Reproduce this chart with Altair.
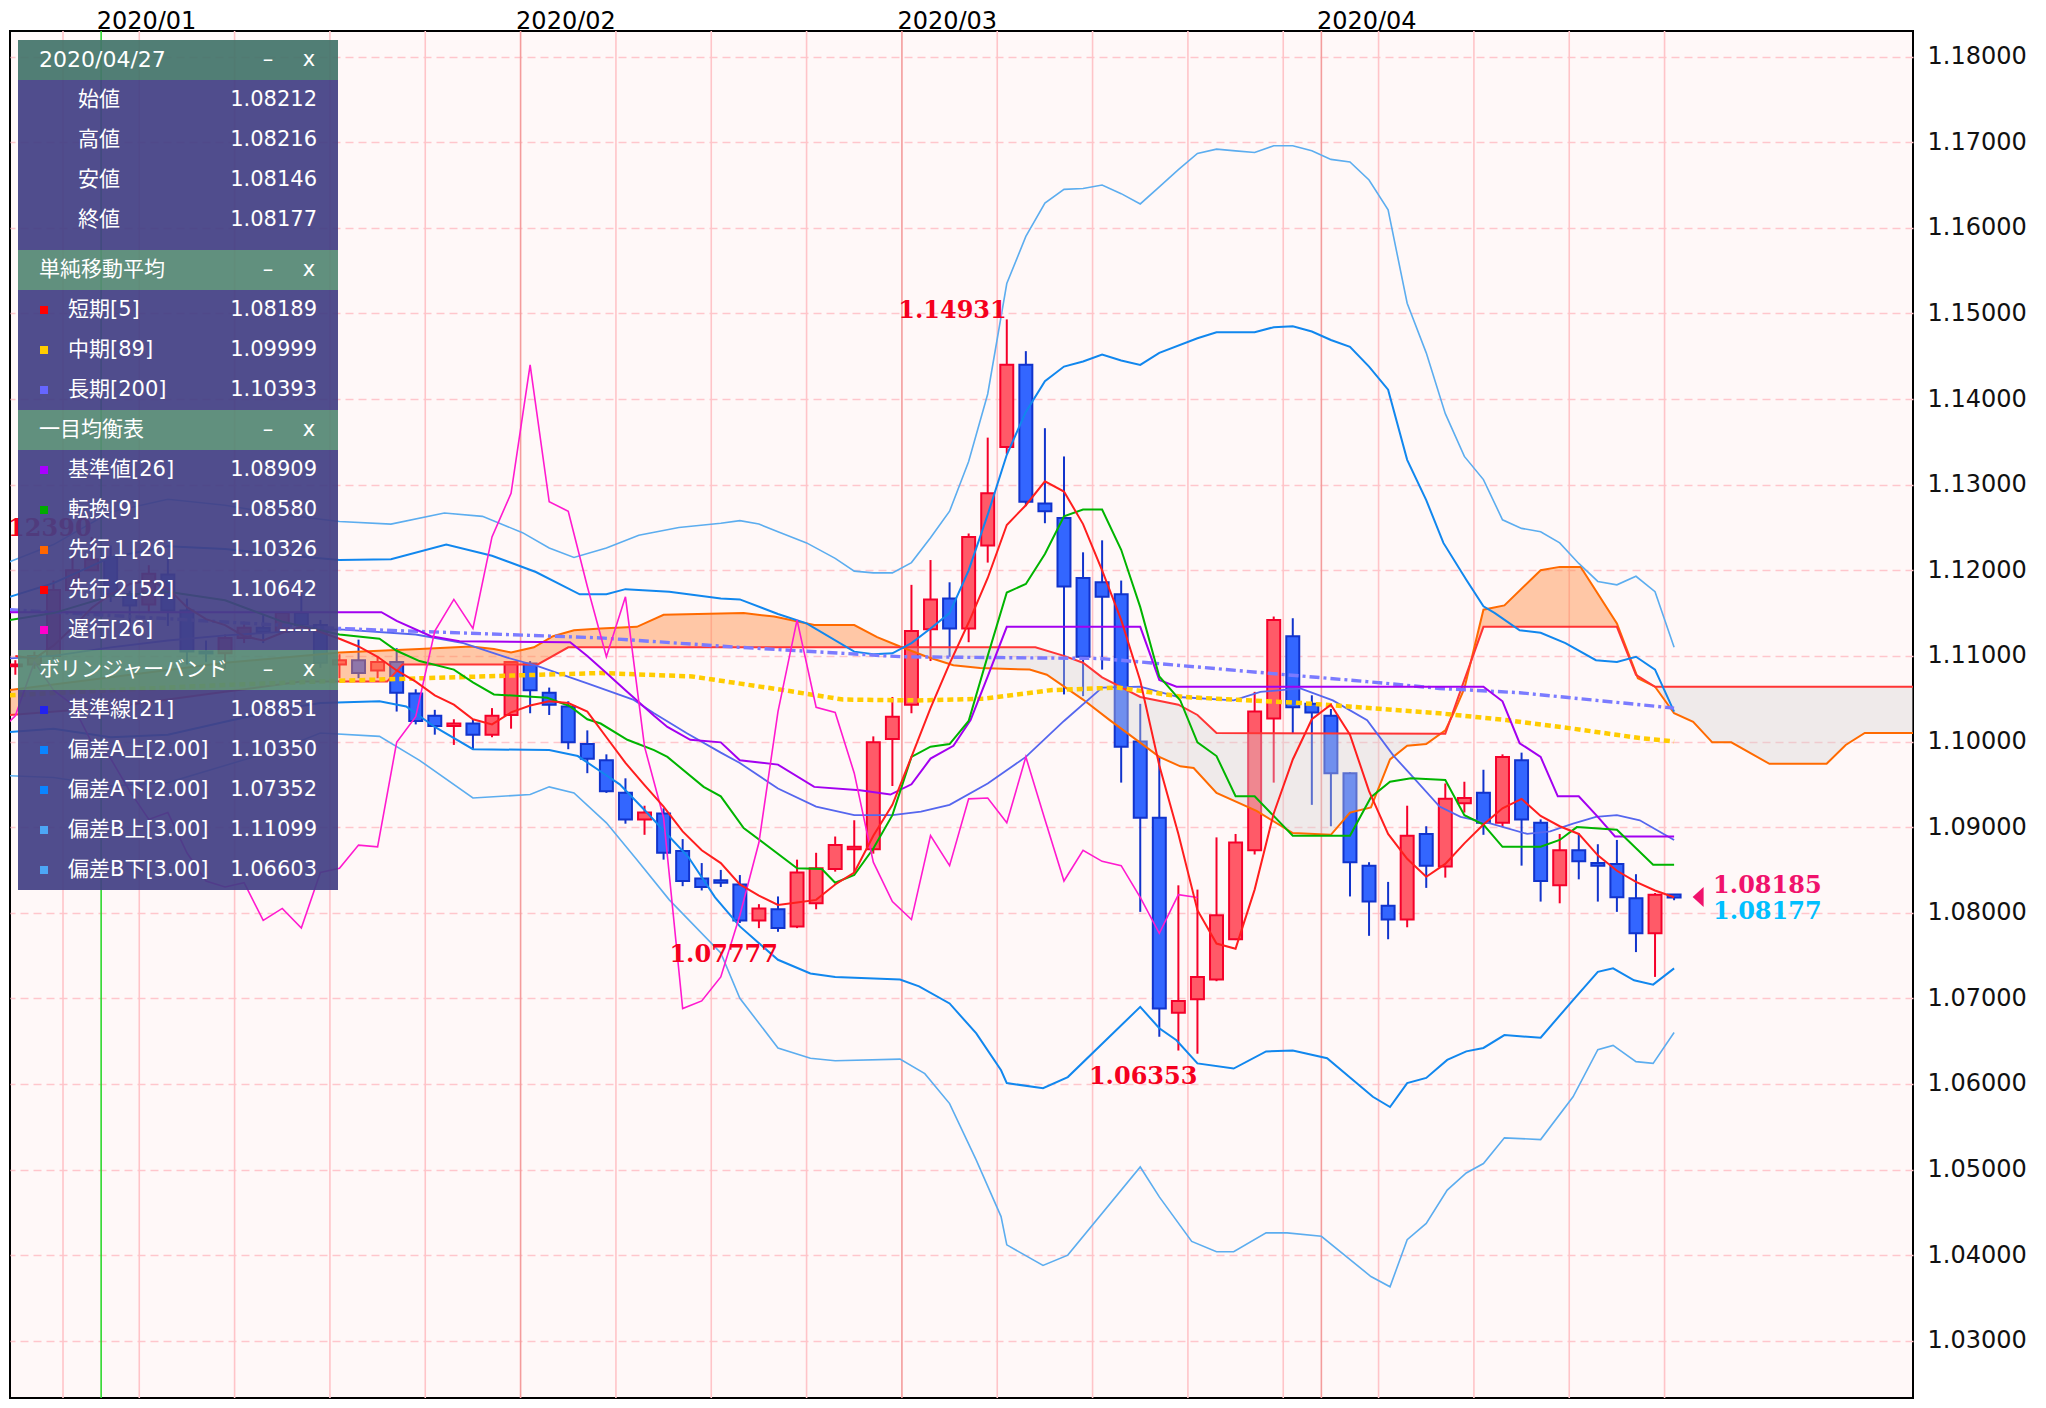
import altair as alt
import pandas as pd
import numpy as np

# ---------------- trading calendar (Jan 2 2020 = index 0) ----------------
cal = [d for d in pd.bdate_range("2019-12-24", "2020-04-27")
       if d.strftime("%m-%d") not in ("12-25", "01-01")]
first_idx = cal.index(pd.Timestamp("2020-01-02"))
day_n = [i - first_idx for i in range(len(cal))]

# ---------------- daily candles (n = -5 .. 82) ----------------
opens = [1.1088, 1.1090, 1.1100, 1.1177, 1.1200, 1.1215, 1.1172, 1.1160, 1.1195, 1.1153,
         1.1105, 1.1103, 1.1121, 1.1133, 1.1128, 1.1150, 1.1136, 1.1090, 1.1095, 1.1083,
         1.1093, 1.1056, 1.1030, 1.1018, 1.1021, 1.1008, 1.1031, 1.1091, 1.1057, 1.1041,
         1.0997, 1.0978, 1.0940, 1.0909, 1.0916, 1.0872, 1.0840, 1.0838, 1.0833, 1.0791,
         1.0804, 1.0784, 1.0811, 1.0851, 1.0874, 1.0874, 1.1003, 1.1043, 1.1131, 1.1167,
         1.1132, 1.1229, 1.1344, 1.1440, 1.1278, 1.1261, 1.1191, 1.1186, 1.1172, 1.1000,
         1.0911, 1.0683, 1.0699, 1.0722, 1.0769, 1.0873, 1.1027, 1.1123, 1.1044, 1.1030,
         1.0963, 1.0855, 1.0808, 1.0792, 1.0892, 1.0854, 1.0928, 1.0940, 1.0905, 1.0978,
         1.0905, 1.0832, 1.0873, 1.0858, 1.0857, 1.0817, 1.0776, 1.08212]
highs = [1.1095, 1.1105, 1.1188, 1.1224, 1.1239, 1.1229, 1.1176, 1.1206, 1.1215, 1.1167,
         1.1118, 1.1125, 1.1140, 1.1148, 1.1150, 1.1172, 1.1142, 1.1102, 1.1119, 1.1099,
         1.1109, 1.1061, 1.1037, 1.1026, 1.1026, 1.1039, 1.1094, 1.1094, 1.1063, 1.1047,
         1.1013, 1.0985, 1.0957, 1.0925, 1.0922, 1.0886, 1.0858, 1.0850, 1.0844, 1.0810,
         1.0819, 1.0862, 1.0870, 1.0889, 1.0908, 1.1006, 1.1052, 1.1183, 1.1212, 1.1186,
         1.1243, 1.1355, 1.14931, 1.1456, 1.1366, 1.1333, 1.1221, 1.1235, 1.1188, 1.1044,
         1.0982, 1.0832, 1.0827, 1.0888, 1.0892, 1.1058, 1.1146, 1.1144, 1.1054, 1.1038,
         1.0964, 1.0859, 1.0836, 1.0925, 1.0901, 1.0951, 1.0953, 1.0967, 1.0985, 1.0987,
         1.0909, 1.0892, 1.0893, 1.0880, 1.0885, 1.0845, 1.0823, 1.08216]
lows = [1.1078, 1.1085, 1.1096, 1.1174, 1.1200, 1.1163, 1.1128, 1.1150, 1.1135, 1.1090,
        1.1093, 1.1085, 1.1115, 1.1115, 1.1127, 1.1135, 1.1086, 1.1074, 1.1074, 1.1074,
        1.1035, 1.1020, 1.1008, 1.0996, 1.0991, 1.1005, 1.1015, 1.1033, 1.1031, 1.0991,
        1.0963, 1.0940, 1.0904, 1.0891, 1.0862, 1.0831, 1.0826, 1.0830, 1.0788, 1.0782,
        1.07777, 1.0782, 1.0804, 1.0848, 1.0847, 1.0869, 1.0948, 1.1033, 1.1094, 1.1099,
        1.1116, 1.1209, 1.1336, 1.1275, 1.1255, 1.1055, 1.1053, 1.1084, 1.0952, 1.0801,
        1.0655, 1.0639, 1.06353, 1.0720, 1.0768, 1.0868, 1.0952, 1.1009, 1.0926, 1.0901,
        1.0819, 1.0773, 1.0769, 1.0783, 1.0829, 1.0841, 1.0917, 1.0891, 1.0900, 1.0855,
        1.0813, 1.0811, 1.0839, 1.0813, 1.0801, 1.0754, 1.0725, 1.08146]
closes = [1.1090, 1.1100, 1.1177, 1.1200, 1.1213, 1.1172, 1.1159, 1.1196, 1.1153, 1.1105,
          1.1103, 1.1121, 1.1133, 1.1128, 1.1150, 1.1136, 1.1092, 1.1095, 1.1080, 1.1093,
          1.1057, 1.1024, 1.1018, 1.1021, 1.1008, 1.1030, 1.1093, 1.1060, 1.1043, 1.0999,
          1.0980, 1.0942, 1.0909, 1.0917, 1.0870, 1.0837, 1.0830, 1.0835, 1.0791, 1.0805,
          1.0782, 1.0847, 1.0852, 1.0879, 1.0877, 1.0999, 1.1029, 1.1129, 1.1166, 1.1132,
          1.1239, 1.1290, 1.1440, 1.1280, 1.1269, 1.1181, 1.1099, 1.1169, 1.0994, 1.0911,
          1.0688, 1.0697, 1.0725, 1.0797, 1.0882, 1.1035, 1.1142, 1.1040, 1.1034, 1.0963,
          1.0859, 1.0813, 1.0792, 1.0890, 1.0855, 1.0933, 1.0934, 1.0905, 1.0982, 1.0909,
          1.0837, 1.0873, 1.0860, 1.0855, 1.0818, 1.0776, 1.0821, 1.08177]

# ---------------- indicator lines ----------------
sma5 = [1.1100, 1.1097, 1.1112, 1.1133, 1.1156, 1.1172, 1.1184, 1.1188, 1.1179, 1.1157,
        1.1143, 1.1136, 1.1123, 1.1118, 1.1127, 1.1134, 1.1128, 1.1120, 1.1111, 1.1099,
        1.1083, 1.1070, 1.1054, 1.1043, 1.1026, 1.1020, 1.1034, 1.1042, 1.1047, 1.1045,
        1.1035, 1.1005, 1.0975, 1.0949, 1.0924, 1.0895, 1.0873, 1.0858, 1.0833, 1.0820,
        1.0809, 1.0812, 1.0815, 1.0833, 1.0847, 1.0890, 1.0926, 1.0982, 1.1039, 1.1091,
        1.1139, 1.1191, 1.1253, 1.1276, 1.1304, 1.1292, 1.1254, 1.1200, 1.1142, 1.1071,
        1.0972, 1.0892, 1.0803, 1.0764, 1.0758, 1.0827, 1.0916, 1.0979, 1.1026, 1.1043,
        1.1008, 1.0942, 1.0892, 1.0863, 1.0842, 1.0857, 1.0881, 1.0903, 1.0922, 1.0933,
        1.0913, 1.0901, 1.0892, 1.0867, 1.0849, 1.0836, 1.0826, 1.0818]

sma89 = [(-5.3, 1.1054), (0, 1.1060), (6, 1.1066), (12, 1.1071), (21, 1.1077), (25.7, 1.1080),
         (30.5, 1.1076), (35.3, 1.1060), (38.4, 1.1049), (42.3, 1.1048), (45.8, 1.1050),
         (49.3, 1.1060), (52.8, 1.1063), (56.3, 1.1052), (62.4, 1.1045), (69.7, 1.1033),
         (73.2, 1.1025), (76.7, 1.1015), (80.2, 1.1004), (82, 1.1000)]
sma200 = [(-5.3, 1.1154), (12, 1.1132), (25.7, 1.1121), (33, 1.1110), (41.5, 1.1099),
          (51.9, 1.1097), (60.6, 1.1080), (65.9, 1.1070), (69.7, 1.1062), (73.9, 1.1057),
          (82, 1.1039)]

kijun = [(-5.3, 1.1151), (14.2, 1.1151), (15, 1.1141), (16.8, 1.1123), (18.3, 1.1117),
         (24.1, 1.1116), (25, 1.1100), (26, 1.1080), (27, 1.1060), (28.5, 1.1030),
         (29.2, 1.1017), (30.4, 1.1002), (32, 1.0999), (33, 1.0978), (35, 1.0973),
         (36.9, 1.0947), (39.3, 1.0943), (40.9, 1.0938), (42, 1.0950), (43, 1.0980),
         (44.2, 1.0995), (45.1, 1.1025), (46, 1.1076), (47, 1.1134), (54, 1.1134),
         (55, 1.1072), (55.9, 1.1064), (72, 1.1064), (73, 1.1047), (73.9, 1.0998),
         (75, 1.0982), (75.9, 1.0936), (77, 1.0936), (78, 1.0912), (78.9, 1.0889), (82, 1.0889)]
tenkan = [(-5.3, 1.1142), (-3, 1.1150), (0, 1.1170), (3, 1.1175), (6, 1.1165), (9, 1.1140),
          (12, 1.1125), (14.1, 1.1120), (15, 1.1106), (16.2, 1.1094), (18, 1.1084),
          (19, 1.1069), (20.1, 1.1055), (22.9, 1.1051), (24.1, 1.1041), (25, 1.1026),
          (25.7, 1.1021), (27.1, 1.1002), (28.5, 1.0990), (29.2, 1.0982), (31.1, 1.0947),
          (32, 1.0936), (33.2, 1.0899), (36, 1.0852), (37.3, 1.0851), (38, 1.0835),
          (39, 1.0844), (40, 1.0875), (41, 1.0914), (42, 1.0982), (43, 1.0994), (44, 1.0997),
          (45, 1.1024), (46, 1.1100), (47, 1.1174), (48, 1.1184), (49, 1.1219), (50, 1.1263),
          (51, 1.1271), (52, 1.1271), (53, 1.1224), (54, 1.1157), (55, 1.1076), (56.1, 1.1048),
          (57, 1.0999), (58, 1.0983), (59, 1.0936), (60, 1.0936), (62, 1.0890), (65, 1.0890),
          (66.1, 1.0935), (67.1, 1.0953), (68.2, 1.0957), (70, 1.0955), (71, 1.0914),
          (72, 1.0903), (73, 1.0877), (75, 1.0877), (76, 1.0885), (76.9, 1.0900), (79, 1.0897),
          (80.9, 1.0856), (82, 1.0856)]
span1 = [(-5.3, 1.1060), (0, 1.1075), (6, 1.1092), (12, 1.1104), (16.2, 1.1108), (18.9, 1.1111),
         (20.1, 1.1108), (21, 1.1104), (22.2, 1.1110), (23.2, 1.1123), (24.3, 1.1130),
         (25.7, 1.1132), (27.6, 1.1134), (29, 1.1148), (33.2, 1.1150), (34.8, 1.1146),
         (36.9, 1.1136), (39, 1.1136), (40.2, 1.1122), (41.4, 1.1111), (42.8, 1.1099),
         (44.2, 1.1089), (45.6, 1.1086), (48.2, 1.1084), (49.1, 1.1078), (51, 1.1049),
         (52.4, 1.1025), (55, 1.0982), (56.1, 1.0971), (56.8, 1.0969), (58, 1.0940),
         (60.1, 1.0919), (62, 1.0893), (64, 1.0891), (65, 1.0917), (66.1, 1.0923),
         (67.1, 1.0979), (68, 1.0995), (69, 1.0997), (70, 1.1013), (70.5, 1.1036),
         (71, 1.1062), (72, 1.1154), (73.1, 1.1159), (75, 1.1200), (76, 1.1204), (77.1, 1.1204),
         (79, 1.1138), (80.1, 1.1074), (81, 1.1064), (82, 1.1033), (83, 1.1023), (84, 1.0999),
         (85, 1.0999), (87, 1.0974), (90, 1.0974), (91, 1.0996), (92, 1.1010), (94.6, 1.1010)]
span2 = [(-5.3, 1.1031), (0, 1.1040), (6, 1.1058), (10, 1.1070), (14.5, 1.1070), (15.3, 1.1090),
         (22.4, 1.1090), (24, 1.1110), (48.5, 1.1110), (50, 1.1100), (51, 1.1092), (52, 1.1075),
         (54, 1.1052), (56, 1.1043), (57, 1.1031), (58, 1.1010), (70, 1.1009), (71, 1.1072),
         (72, 1.1134), (79, 1.1134), (80, 1.1078), (81, 1.1064), (94.6, 1.1064)]

bb_mid = [(-5.3, 1.1097), (-3, 1.1100), (0, 1.1110), (3, 1.1118), (6, 1.1124), (9, 1.1128),
          (12, 1.1131), (16, 1.1125), (18.5, 1.1115), (20.8, 1.1098), (22.4, 1.1088),
          (25, 1.1068), (27.4, 1.1049), (28.5, 1.1033), (30.2, 1.1010), (32, 1.0987),
          (33, 1.0975), (35, 1.0945), (37, 1.0924), (39, 1.0914), (41, 1.0914), (42.5, 1.0918),
          (44, 1.0926), (46, 1.0951), (48, 1.0982), (50, 1.1024), (52, 1.1063), (54, 1.1064),
          (56, 1.1052), (58.9, 1.1048), (60.3, 1.1058), (62.4, 1.1062), (64.1, 1.1048),
          (65.9, 1.1025), (67.3, 1.0983), (68.2, 1.0961), (69.7, 1.0924), (70.8, 1.0912),
          (72.4, 1.0904), (74.3, 1.0892), (75.5, 1.0895), (76.7, 1.0904), (77.9, 1.0912),
          (79, 1.0914), (80.2, 1.0908), (82, 1.0885)]
bb_up2 = [(-5.3, 1.1169), (-3, 1.1185), (0, 1.1215), (3, 1.1228), (6, 1.1225), (9, 1.1218),
          (12, 1.1212), (14.7, 1.1213), (17.6, 1.1230), (20, 1.1217), (22.3, 1.1198),
          (24.6, 1.1172), (26, 1.1172), (27, 1.1178), (29.3, 1.1175), (32, 1.1167), (33, 1.1166),
          (35, 1.1149), (36.5, 1.1138), (39, 1.1105), (40, 1.1102), (41, 1.1103), (42, 1.1115),
          (43, 1.1132), (44, 1.1150), (45, 1.1200), (46, 1.1265), (47, 1.1335), (48, 1.1385),
          (49, 1.1421), (50, 1.1438), (51, 1.1444), (52, 1.1452), (53, 1.1445), (54, 1.1440),
          (55, 1.1454), (57, 1.1471), (58, 1.1478), (60, 1.1478), (61, 1.1484), (62, 1.1485),
          (63, 1.1479), (64, 1.1469), (65, 1.1461), (66, 1.1438), (67, 1.1411), (68, 1.1329),
          (69, 1.1282), (69.9, 1.1232), (71.1, 1.1189), (72, 1.1158), (72.6, 1.1150),
          (73.9, 1.1130), (75, 1.1127), (76.3, 1.1115), (77.9, 1.1095), (79, 1.1093),
          (80, 1.1099), (81, 1.1084), (82, 1.1035)]
bb_up3 = [(-5.3, 1.1210), (-3, 1.1230), (0, 1.1268), (3, 1.1283), (6, 1.1276), (9, 1.1265),
          (12, 1.1257), (14.7, 1.1254), (17.5, 1.1267), (19.5, 1.1263), (21.6, 1.1244),
          (23, 1.1226), (24.3, 1.1215), (26, 1.1226), (27.7, 1.1241), (29.8, 1.1250),
          (32, 1.1255), (33, 1.1258), (34, 1.1254), (35, 1.1245), (36.5, 1.1232), (38, 1.1214),
          (39, 1.1199), (40, 1.1197), (41, 1.1197), (42, 1.1209), (43, 1.1238), (44, 1.1269),
          (45, 1.1327), (46, 1.1406), (47, 1.1535), (48, 1.1590), (49, 1.1629), (50, 1.1645),
          (51, 1.1646), (52, 1.1650), (53, 1.1640), (54, 1.1628), (55, 1.1648), (56, 1.1668),
          (57, 1.1687), (58, 1.1692), (59, 1.1690), (60, 1.1688), (61, 1.1696), (62, 1.1696),
          (63, 1.1690), (64, 1.1680), (65, 1.1677), (66, 1.1656), (67, 1.1621), (68, 1.1512),
          (69, 1.1454), (70, 1.1383), (71, 1.1333), (72, 1.1306), (73, 1.1259), (74, 1.1249),
          (75, 1.1245), (76, 1.1232), (77, 1.1208), (78, 1.1187), (79, 1.1183), (80, 1.1193),
          (81, 1.1175), (82, 1.1110)]
bb_lo2 = [(-5.3, 1.1011), (-3, 1.1015), (0, 1.1005), (3, 1.1008), (6, 1.1023), (9, 1.1038),
          (11, 1.1045), (14.1, 1.1047), (15.5, 1.1041), (17, 1.1017), (19, 1.0991), (23, 1.0990),
          (24.5, 1.0983), (25.7, 1.0965), (26.7, 1.0950), (28, 1.0920), (30.3, 1.0865),
          (31.7, 1.0818), (33, 1.0784), (35, 1.0745), (36.7, 1.0729), (38, 1.0725),
          (41.4, 1.0722), (42.4, 1.0714), (44, 1.0694), (45.4, 1.0659), (46.7, 1.0616),
          (47, 1.0601), (48.9, 1.0595), (50.2, 1.0608), (54, 1.0690), (55, 1.0665),
          (55.9, 1.0651), (57, 1.0624), (58.9, 1.0618), (60.6, 1.0638), (62, 1.0639),
          (63.8, 1.0630), (66.2, 1.0585), (67.1, 1.0573), (68, 1.0601), (69, 1.0607),
          (70.1, 1.0628), (71.1, 1.0638), (72, 1.0642), (73.1, 1.0657), (75, 1.0654),
          (76.7, 1.0698), (78, 1.0731), (78.8, 1.0735), (79.9, 1.0721), (80.9, 1.0716),
          (82, 1.0735)]
bb_lo3 = [(-5.3, 1.0960), (-3, 1.0958), (0, 1.0948), (3, 1.0952), (6, 1.0972), (9, 1.0992),
          (11, 1.1010), (14.1, 1.1006), (16.2, 1.0978), (19, 1.0934), (22, 1.0938), (23, 1.0947),
          (24.3, 1.0940), (26, 1.0905), (27.6, 1.0862), (29.3, 1.0815), (32, 1.0753),
          (33, 1.0700), (35, 1.0642), (36.7, 1.0630), (38, 1.0627), (41.4, 1.0629),
          (42.7, 1.0612), (44, 1.0577), (45.4, 1.0511), (46.7, 1.0445), (47, 1.0412),
          (48.9, 1.0388), (50.2, 1.0400), (54, 1.0503), (55, 1.0468), (56.7, 1.0416),
          (58, 1.0404), (58.9, 1.0404), (60.6, 1.0426), (61.7, 1.0426), (63.5, 1.0422),
          (66.1, 1.0375), (67.1, 1.0363), (68, 1.0418), (69, 1.0437), (70.1, 1.0476),
          (71.1, 1.0496), (72, 1.0507), (73.1, 1.0537), (75, 1.0535), (76.7, 1.0585),
          (78, 1.0640), (78.8, 1.0645), (80, 1.0626), (80.9, 1.0624), (82, 1.0660)]

chikou_shift = 25
hl_labels = [(47, 1.14931, "1.14931", "high"), (-1, 1.12390, "1.12390", "high"),
             (35, 1.07777, "1.07777", "low"), (57, 1.06353, "1.06353", "low")]
bid_price = 1.08185

month_b = [-0.5, 21.5, 41.5, 63.5]
month_lbl = ["2020/01", "2020/02", "2020/03", "2020/04"]
y_ticks = [round(1.03 + 0.01 * i, 2) for i in range(16)]

# ---------------- scales and (shared) axes ----------------
XS = alt.Scale(domain=[-5.28, 94.53], nice=False, zero=False)
YS = alt.Scale(domain=[1.02331, 1.18300], nice=False, zero=False)
expr = " : ".join(f"datum.value == {b} ? '{l}'" for b, l in zip(month_b, month_lbl)) + " : ''"
AXX = alt.Axis(
    orient="top", values=month_b, labelExpr=expr, grid=False, ticks=False, tickSize=0,
    domain=False, labelAlign="left", labelBaseline="alphabetic", labelPadding=3,
    labelOffset=-5, labelFont="DejaVu Sans", labelFontSize=24, labelColor="#000",
    labelFlush=False, labelOverlap=False, title=None)
AXY = alt.Axis(
    orient="right", values=y_ticks, format=".5f", grid=True, gridDash=[8, 5],
    gridColor="#FFC6CC", gridWidth=1.5, ticks=False, tickSize=0, domain=False,
    labelFont="DejaVu Sans", labelFontSize=24, labelColor="#111", labelPadding=14,
    labelOverlap=False, title=None)


def xq(f):
    return alt.X(f"{f}:Q", scale=XS, axis=AXX)


def yq(f):
    return alt.Y(f"{f}:Q", scale=YS, axis=AXY)


def line_layer(pairs, color, width, dash=None, opacity=1.0):
    df = pd.DataFrame(pairs, columns=["n", "p"])
    kw = dict(color=color, strokeWidth=width, clip=True, opacity=opacity)
    if dash:
        kw["strokeDash"] = dash
    return alt.Chart(df).mark_line(**kw).encode(x=xq("n"), y=yq("p"))


# ---------------- vertical separators (weeks / months / year) ----------------
rows = []
prev = None
for d, n in zip(cal, day_n):
    kind = None
    if prev is not None and d.year != prev.year:
        kind = "year"
    elif prev is not None and d.month != prev.month:
        kind = "month"
    elif d.weekday() == 0:
        kind = "week"
    if kind:
        rows.append({"b": n - 0.5, "kind": kind})
    prev = d
vdf = pd.DataFrame(rows)
vcol = {"week": "#FFC4C8", "month": "#F49C9C", "year": "#2ED82E"}
vdf["col"] = vdf["kind"].map(vcol)

vrules = alt.Chart(vdf).mark_rule(strokeWidth=1.6, clip=True).encode(
    x=xq("b"), color=alt.Color("col:N", scale=None))

# ---------------- candles ----------------
cdf = pd.DataFrame(dict(n=day_n, o=opens, h=highs, l=lows, c=closes))
cdf["up"] = cdf["c"] >= cdf["o"]
cdf["lo"] = np.minimum(cdf["o"], cdf["c"])
cdf["hi"] = np.maximum(cdf["o"], cdf["c"])
mid = (cdf["lo"] + cdf["hi"]) / 2
small = (cdf["hi"] - cdf["lo"]) < 0.00022
cdf.loc[small, "lo"] = mid[small] - 0.00011
cdf.loc[small, "hi"] = mid[small] + 0.00011
cdf["x0"] = cdf["n"] - 0.34
cdf["x1"] = cdf["n"] + 0.34
cdf["fillc"] = np.where(cdf["up"], "#FF5A68", "#3366FF")
cdf["linec"] = np.where(cdf["up"], "#F5002A", "#1133CC")

wick = alt.Chart(cdf).mark_rule(strokeWidth=2, clip=True).encode(
    x=xq("n"), y=yq("l"), y2="h:Q", color=alt.Color("linec:N", scale=None))
body = alt.Chart(cdf).mark_rect(strokeWidth=2, clip=True).encode(
    x=xq("x0"), x2="x1:Q", y=yq("lo"), y2="hi:Q",
    fill=alt.Fill("fillc:N", scale=None), stroke=alt.Stroke("linec:N", scale=None))

# ---------------- ichimoku cloud fill ----------------
s1 = np.array(span1)
s2 = np.array(span2)
grid = sorted(set(s1[:, 0]).union(s2[:, 0]))
a = np.interp(grid, s1[:, 0], s1[:, 1])
b = np.interp(grid, s2[:, 0], s2[:, 1])
pts = []
for i in range(len(grid)):
    pts.append((grid[i], a[i], b[i]))
    if i + 1 < len(grid):
        d0, d1 = a[i] - b[i], a[i + 1] - b[i + 1]
        if d0 * d1 < 0:
            t = d0 / (d0 - d1)
            xc = grid[i] + t * (grid[i + 1] - grid[i])
            yc = a[i] + t * (a[i + 1] - a[i])
            pts.append((xc, yc, yc))
cl = pd.DataFrame(pts, columns=["n", "s1", "s2"])
cl["lo"] = np.minimum(cl["s1"], cl["s2"])
cloud_up = alt.Chart(cl).mark_area(color="#FF8C42", opacity=0.45, clip=True).encode(
    x=xq("n"), y=yq("s1"), y2="lo:Q")
cloud_dn = alt.Chart(cl).mark_area(color="#D6D2D2", opacity=0.38, clip=True).encode(
    x=xq("n"), y=yq("s2"), y2="lo:Q")

# ---------------- chikou ----------------
ch = pd.DataFrame({"n": [n - chikou_shift for n in day_n], "p": closes})
ch = ch[ch["n"] >= -7]
chikou = alt.Chart(ch).mark_line(color="#FF1ACF", strokeWidth=1.6, clip=True).encode(
    x=xq("n"), y=yq("p"))

sma5_layer = line_layer(list(zip(day_n, sma5)), "#FF1E1E", 2)

# ---------------- labels ----------------
LF = "DejaVu Serif"
hl = pd.DataFrame(hl_labels, columns=["n", "p", "t", "k"])
hi_lab = alt.Chart(hl[hl.k == "high"]).mark_text(
    align="right", baseline="alphabetic", dy=-1, font=LF, fontWeight="bold",
    fontSize=24, color="#F5001E", clip=True).encode(x=xq("n"), y=yq("p"), text="t:N")
lo_lab = alt.Chart(hl[hl.k == "low"]).mark_text(
    align="right", baseline="top", dy=11, font=LF, fontWeight="bold",
    fontSize=24, color="#F5001E", clip=True).encode(x=xq("n"), y=yq("p"), text="t:N")

last_n = day_n[-1]
cur = pd.DataFrame({"n": [last_n, last_n], "p": [bid_price, closes[-1]],
                    "t": [f"{bid_price:.5f}", f"{closes[-1]:.5f}"]})
cur_bid = alt.Chart(cur.iloc[[0]]).mark_text(
    align="left", baseline="alphabetic", dx=39, dy=-4, font=LF,
    fontWeight="bold", fontSize=24, color="#F0126C").encode(x=xq("n"), y=yq("p"), text="t:N")
cur_cls = alt.Chart(cur.iloc[[1]]).mark_text(
    align="left", baseline="alphabetic", dx=39, dy=21, font=LF,
    fontWeight="bold", fontSize=24, color="#00BFFF").encode(x=xq("n"), y=yq("p"), text="t:N")
tri = alt.Chart(cur.iloc[[0]]).mark_point(
    shape="M0.55,-1L-0.55,0L0.55,1Z", size=400, filled=True, opacity=1,
    color="#F0126C", xOffset=24).encode(x=xq("n"), y=yq("p"))

# ---------------- info panel (overlay, pixel layout) ----------------
sections = [
    ("2020/04/27", [("始値", f"{opens[-1]:.5f}", None), ("高値", f"{highs[-1]:.5f}", None),
                    ("安値", f"{lows[-1]:.5f}", None), ("終値", f"{closes[-1]:.5f}", None)]),
    ("単純移動平均", [("短期[5]", "1.08189", "#FF0000"), ("中期[89]", "1.09999", "#FFCC00"),
                  ("長期[200]", "1.10393", "#6666FF")]),
    ("一目均衡表", [("基準値[26]", "1.08909", "#AA00FF"), ("転換[9]", "1.08580", "#00AA00"),
               ("先行１[26]", "1.10326", "#FF6600"), ("先行２[52]", "1.10642", "#FF0000"),
               ("遅行[26]", "-----", "#FF00CC")]),
    ("ボリンジャーバンド", [("基準線[21]", "1.08851", "#2222EE"), ("偏差A上[2.00]", "1.10350", "#0A84FF"),
                   ("偏差A下[2.00]", "1.07352", "#0A84FF"), ("偏差B上[3.00]", "1.11099", "#4DA6F5"),
                   ("偏差B下[3.00]", "1.06603", "#4DA6F5")]),
]
PX0, PX1, ROW = 8, 328, 40
rects, texts, squares = [], [], []
yy = 9
for si, (title, items) in enumerate(sections):
    rects.append({"x": PX0, "x2": PX1, "y": yy, "y2": yy + ROW,
                  "fill": "#44746A" if si == 0 else "#558874"})
    texts.append({"x": 29, "y": yy + ROW / 2, "t": title, "al": "left",
                  "fs": 22 if si == 0 else 21})
    texts.append({"x": 258, "y": yy + ROW / 2, "t": "–", "al": "center", "fs": 21})
    texts.append({"x": 299, "y": yy + ROW / 2, "t": "x", "al": "center", "fs": 21})
    yy += ROW
    block = ROW * len(items) + (10 if si == 0 else 0)
    rects.append({"x": PX0, "x2": PX1, "y": yy, "y2": yy + block, "fill": "#433F84"})
    for k, (lab, val, col) in enumerate(items):
        cy = yy + ROW / 2 + ROW * k
        if col is None:
            texts.append({"x": 68, "y": cy, "t": lab, "al": "left", "fs": 21})
        else:
            squares.append({"x": 30, "x2": 38, "y": cy - 4, "y2": cy + 4, "fill": col})
            texts.append({"x": 58, "y": cy, "t": lab, "al": "left", "fs": 21})
        texts.append({"x": 307, "y": cy, "t": val, "al": "right", "fs": 21})
    yy += block

pr = pd.DataFrame(rects)
ps = pd.DataFrame(squares)
pt = pd.DataFrame(texts)
panel_bg = alt.Chart(pr).mark_rect(opacity=0.93).encode(
    x=alt.X("x:Q", scale=None), x2="x2:Q", y=alt.Y("y:Q", scale=None), y2="y2:Q",
    fill=alt.Fill("fill:N", scale=None))
panel_sq = alt.Chart(ps).mark_rect().encode(
    x=alt.X("x:Q", scale=None), x2="x2:Q", y=alt.Y("y:Q", scale=None), y2="y2:Q",
    fill=alt.Fill("fill:N", scale=None))
PF = "DejaVu Sans, Noto Sans CJK JP"


def panel_text(al):
    return alt.Chart(pt[pt.al == al]).mark_text(
        align=al, baseline="middle", font=PF, color="#FFFFFF").encode(
        x=alt.X("x:Q", scale=None), y=alt.Y("y:Q", scale=None), text="t:N",
        size=alt.Size("fs:Q", scale=None))


chart = alt.layer(
    vrules, wick, body, cloud_up, cloud_dn,
    line_layer(span1, "#FF6A00", 2), line_layer(span2, "#FF3535", 2),
    line_layer(bb_up3, "#5CADEF", 1.6), line_layer(bb_lo3, "#5CADEF", 1.6),
    line_layer(bb_up2, "#1187EE", 2), line_layer(bb_lo2, "#1187EE", 2),
    line_layer(bb_mid, "#5566EE", 1.8),
    line_layer(sma200, "#7B7BFF", 3.4, dash=[10, 4, 3, 4]),
    line_layer(sma89, "#FFCC00", 4.5, dash=[6, 4]),
    line_layer(kijun, "#A300F0", 2), line_layer(tenkan, "#00B400", 2),
    chikou, sma5_layer,
    hi_lab, lo_lab, cur_bid, cur_cls, tri,
    panel_bg, panel_sq, panel_text("left"), panel_text("right"), panel_text("center"),
).properties(
    width=1903, height=1367,
    autosize=alt.AutoSizeParams(type="none"),
    padding={"left": 2, "top": 23, "right": 120, "bottom": 5},
    background="#FFFFFF",
).configure_view(
    fill="#FFF8F8", stroke="#000000", strokeWidth=2,
)

chart.save("out.html", embed_options={"renderer": "svg", "actions": False})
